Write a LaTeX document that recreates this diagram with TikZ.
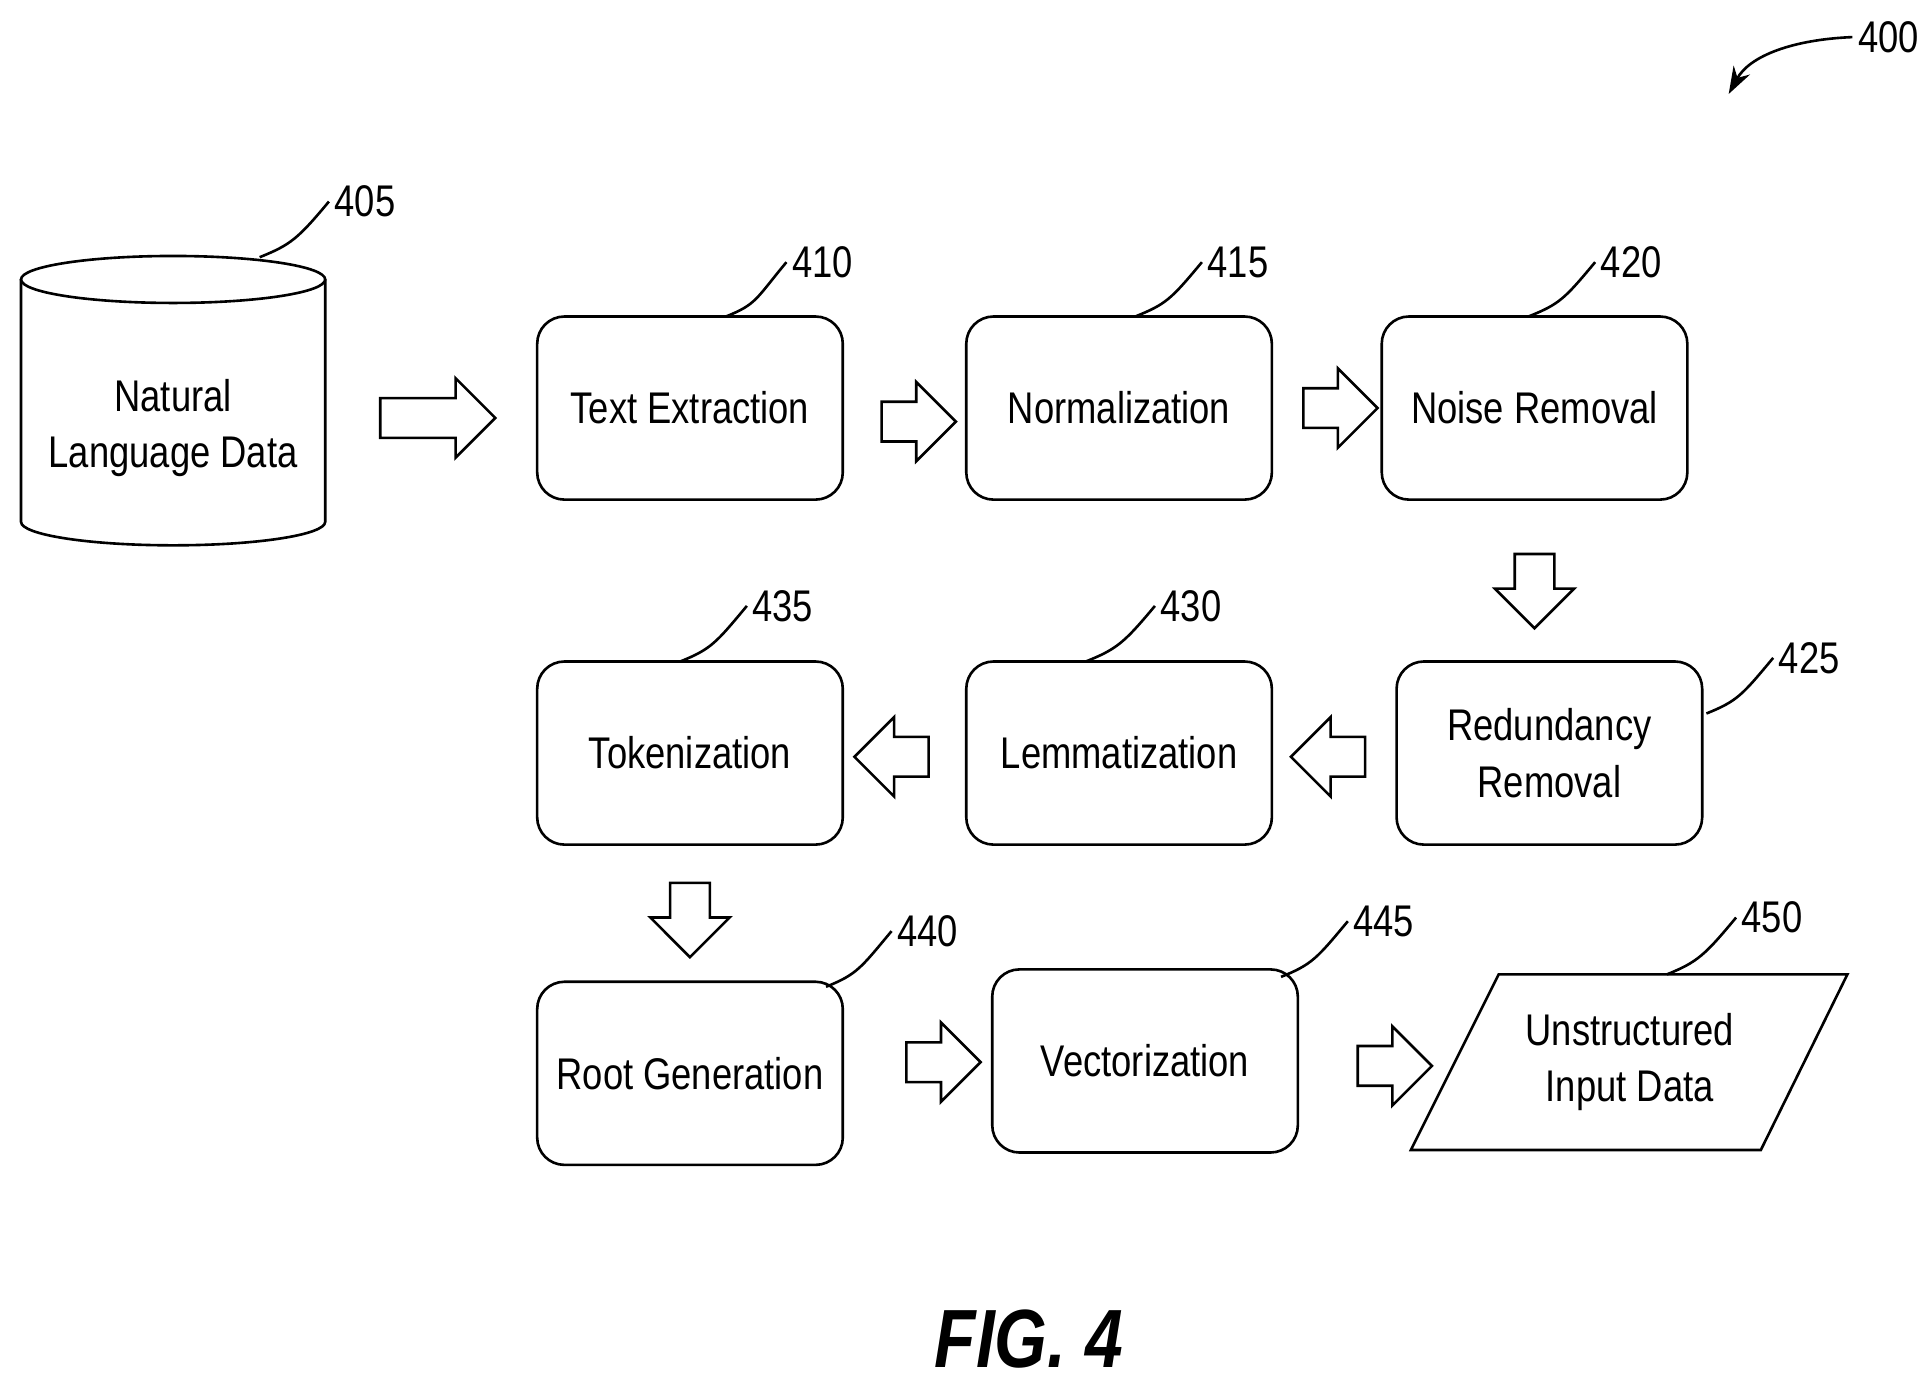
\documentclass[tikz,border=0pt]{standalone}
\usepackage{fontspec}
\setmainfont{Liberation Sans}[FakeStretch=0.82]
\usetikzlibrary{shapes.geometric,shapes.arrows,arrows.meta,calc}
\begin{document}
\begin{tikzpicture}[x=0.01cm, y=-0.01cm, line width=0.6pt,
  box/.style={draw, rounded corners=0.22cm, minimum width=2.47cm, minimum height=1.48cm, align=center, font=\fontsize{10.2}{13}\selectfont},
  blk/.style={draw, single arrow, inner sep=0.15cm, single arrow head extend=0.16cm, minimum height=0.6cm, minimum width=0.62cm, single arrow head indent=0pt},
  num/.style={anchor=west, inner sep=1pt, font=\fontsize{10.2}{12}\selectfont},
  lead/.style={line width=0.6pt}]
  \useasboundingbox (0,0) rectangle (1560,1118);

  % cylinder
  \draw (17,226) -- (17,422) arc[start angle=180, end angle=0, x radius=123, y radius=19] -- (263,226);
  \draw (140,226) ellipse[x radius=123, y radius=19];
  \node[align=center, font=\fontsize{10.2}{13}\selectfont] (b405) at (140,346) {Natural\\Language Data};

  % boxes
  \node[box] (b410) at (558,330) {Text Extraction};
  \node[box] (b415) at (905,330) {Normalization};
  \node[box] (b420) at (1241,330) {Noise Removal};
  \node[box] (b425) at (1253,609) {Redundancy\\Removal};
  \node[box] (b430) at (905,609) {Lemmatization};
  \node[box] (b435) at (558,609) {Tokenization};
  \node[box] (b440) at (558,868) {Root Generation};
  \node[box] (b445) at (926,858) {Vectorization};
  \draw (1212,788) -- (1494,788) -- (1424,930) -- (1141,930) -- cycle;
  \node[align=center, font=\fontsize{10.2}{13}\selectfont] (b450) at (1318,859) {Unstructured\\Input Data};

  % block arrows
  \node[blk, minimum height=0.93cm] (a1) at (346,338) {};
  \node[blk] (a2) at (735,341) {};
  \node[blk] (a3) at (1076,330) {};
  \node[blk, rotate=270] (a4) at (1241,470) {};
  \node[blk, rotate=180] (a5) at (1082,612) {};
  \node[blk, rotate=180] (a6) at (729,612) {};
  \node[blk, rotate=270] (a7) at (558,736) {};
  \node[blk] (a8) at (755,859) {};
  \node[blk] (a9) at (1120,862) {};

  % reference numerals
  \foreach \n/\x/\y/\sx/\sy in {405/266/163/210/208, 410/636/212/587/256, 415/972/212/918/256,
      420/1290/212/1236/256, 430/934/490/878/535, 435/604/490/550/535,
      440/721/753/668/798, 445/1090/745/1036/790, 450/1404/742/1348/788, 425/1434/532/1380/577} {
    \node[num] (n\n) at (\x,\y) {\n};
    \coordinate (s\n) at (\sx,\sy);
    \draw[lead] (s\n) .. controls +(25,-10) and +(-25,30) .. (n\n.west);
  }

  % figure number
  \node[num] (n400) at (1498,30) {400};
  \coordinate (e400) at (1398,76);
  \draw[-{Stealth[length=0.22cm, width=0.15cm]}] (n400.west) .. controls (1450,32) and (1415,45) .. (e400);

  \node[font=\bfseries\itshape\fontsize{19}{22}\selectfont] (fig) at (832,1083) {FIG. 4};
\end{tikzpicture}
\end{document}
